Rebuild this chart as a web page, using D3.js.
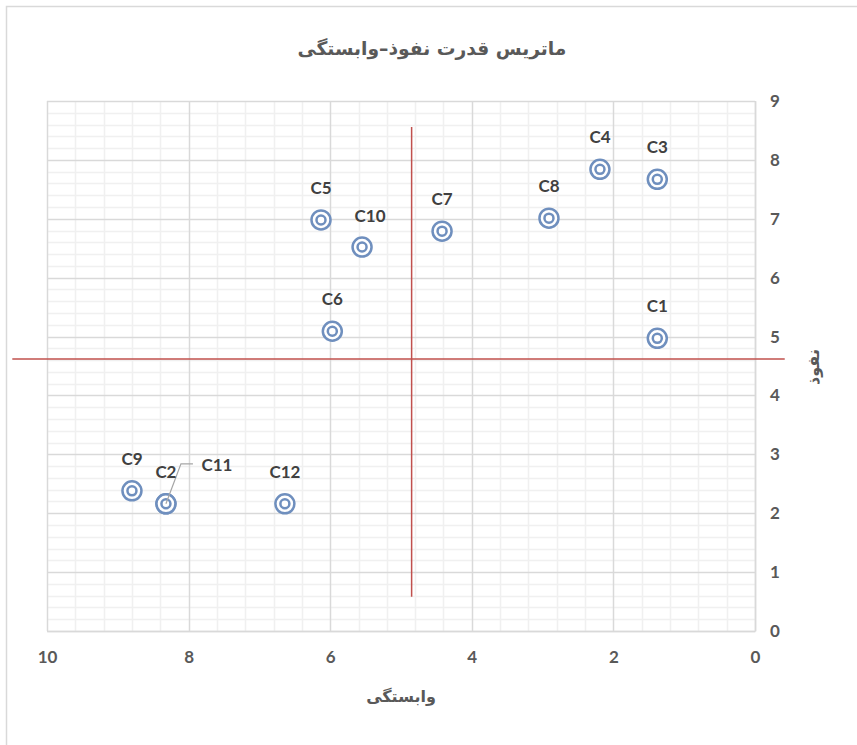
<!DOCTYPE html>
<html>
<head>
<meta charset="utf-8">
<script src="https://cdn.jsdelivr.net/npm/d3@7"></script>
<style>
 body{margin:0;background:#fff}
 svg{display:block}
</style>
</head>
<body>
<svg id="chart" width="857" height="745"></svg>
<script>
// ---chart data---
var pointNames = ["C1","C2","C3","C4","C5","C6","C7","C8","C9","C10","C11","C12"]
var dependence = [1.38, 8.32, 1.38, 2.19, 6.13, 5.97, 4.42, 2.91, 8.80, 5.55, 8.32, 6.64]
var influence  = [4.97, 2.16, 7.67, 7.84, 6.98, 5.09, 6.79, 7.01, 2.38, 6.52, 2.16, 2.16]

var xTicks = [10, 8, 6, 4, 2, 0]
var yTicks = [0, 1, 2, 3, 4, 5, 6, 7, 8, 9]

// ---red divider lines (start/end values)---
var hLineX = [10.49, -0.42]
var hLineY = [4.62, 4.62]
var vLineX = [4.85, 4.85]
var vLineY = [8.56, 0.58]

var title = "ماتریس قدرت نفوذ–وابستگی"
var xAxisName = "وابستگی"
var yAxisName = "نفوذ"

var svg = d3.select("#chart")

// ---outer frame---
svg.append("rect")
 .attr("x", 6.5).attr("y", 6.5)
 .attr("width", 900).attr("height", 800)
 .attr("fill", "white")
 .attr("stroke", "#d9d9d9")
 .attr("stroke-width", 1.5)

var plotLeft = 47, plotRight = 755, plotTop = 101, plotBottom = 631

var xScale = d3.scaleLinear().domain([10, 0]).range([plotLeft, plotRight])
var yScale = d3.scaleLinear().domain([0, 9]).range([plotBottom, plotTop])

var chartG = svg.append("g").attr("id", "chartG")

// ---minor gridlines---
var minorX = d3.range(0, 26).map(function(i){ return i * 0.4 }).filter(function(v){ return v <= 10.001 && Math.abs(v/2 - Math.round(v/2)) > 0.01 })
var minorY = d3.range(0, 46).map(function(i){ return i * 0.2 }).filter(function(v){ return v <= 9.001 && Math.abs(v - Math.round(v)) > 0.01 })

chartG.append("g")
 .selectAll("line").data(minorX).enter().append("line")
 .attr("x1", function(d){ return Math.round(xScale(d)) + 0.5 })
 .attr("x2", function(d){ return Math.round(xScale(d)) + 0.5 })
 .attr("y1", plotTop).attr("y2", plotBottom)
 .attr("stroke", "#f0f0f0").attr("stroke-width", 1.5)

chartG.append("g")
 .selectAll("line").data(minorY).enter().append("line")
 .attr("y1", function(d){ return Math.round(yScale(d)) + 0.5 })
 .attr("y2", function(d){ return Math.round(yScale(d)) + 0.5 })
 .attr("x1", plotLeft).attr("x2", plotRight)
 .attr("stroke", "#f0f0f0").attr("stroke-width", 1.5)

// ---major gridlines---
chartG.append("g")
 .selectAll("line").data(xTicks).enter().append("line")
 .attr("x1", function(d){ return Math.round(xScale(d)) + 0.5 })
 .attr("x2", function(d){ return Math.round(xScale(d)) + 0.5 })
 .attr("y1", plotTop).attr("y2", plotBottom)
 .attr("stroke", "#d9d9d9").attr("stroke-width", 1.5)

chartG.append("g")
 .selectAll("line").data(yTicks).enter().append("line")
 .attr("y1", function(d){ return Math.round(yScale(d)) + 0.5 })
 .attr("y2", function(d){ return Math.round(yScale(d)) + 0.5 })
 .attr("x1", plotLeft).attr("x2", plotRight)
 .attr("stroke", "#d9d9d9").attr("stroke-width", 1.5)

// ---axes---
var xAxis = chartG.append("g")
 .attr("transform", "translate(0," + plotBottom + ")")
 .call(d3.axisBottom(xScale).tickValues(xTicks).tickSize(0).tickPadding(20))
xAxis.select(".domain").attr("stroke", "#d9d9d9").attr("stroke-width", 1.5)
xAxis.selectAll("text")
 .attr("font-family", "Lato, 'Open Sans', sans-serif")
 .attr("font-weight", "bold")
 .attr("font-size", "17px")
 .attr("fill", "#595959")

var yAxis = chartG.append("g")
 .attr("transform", "translate(" + plotRight + ",0)")
 .call(d3.axisRight(yScale).tickValues(yTicks).tickSize(0).tickPadding(15))
yAxis.select(".domain").attr("stroke", "#d9d9d9").attr("stroke-width", 1.5)
yAxis.selectAll("text")
 .attr("font-family", "Lato, 'Open Sans', sans-serif")
 .attr("font-weight", "bold")
 .attr("font-size", "17px")
 .attr("fill", "#595959")

// ---red lines---
var line = d3.line()
 .x(function(d){ return xScale(d[0]) })
 .y(function(d){ return yScale(d[1]) })

chartG.append("path")
 .datum(d3.zip(hLineX, hLineY))
 .attr("d", line)
 .attr("fill", "none")
 .attr("stroke", "#c0504d")
 .attr("stroke-width", 1.5)

chartG.append("path")
 .datum(d3.zip(vLineX, vLineY))
 .attr("d", line)
 .attr("fill", "none")
 .attr("stroke", "#c0504d")
 .attr("stroke-width", 1.5)

// ---points---
var points = pointNames.map(function(n, i){ return {name: n, x: dependence[i], y: influence[i]} })

var pG = chartG.selectAll(".pt").data(points).enter().append("g")
 .attr("class", "pt")
 .attr("transform", function(d){ return "translate(" + xScale(d.x) + "," + yScale(d.y) + ")" })

pG.append("circle")
 .attr("r", 9.5)
 .attr("fill", "white")
 .attr("stroke", "#6f8fbe")
 .attr("stroke-width", 2.5)
pG.append("circle")
 .attr("r", 4.5)
 .attr("fill", "none")
 .attr("stroke", "#6f8fbe")
 .attr("stroke-width", 2.5)

// ---labels---
function labelPos(d)
{
  var px = xScale(d.x), py = yScale(d.y)
  if(d.name == "C10") return [px + 8, py - 31]
  if(d.name == "C11") return [px + 51, py - 39]
  return [px, py - 32]
}

// leader line for C11
var c11 = points[10]
var c11pos = labelPos(c11)
chartG.append("polyline")
 .attr("points", (c11pos[0] - 24) + "," + (c11pos[1] - 1) + " " + (c11pos[0] - 36) + "," + (c11pos[1] - 1) + " " + xScale(c11.x) + "," + yScale(c11.y))
 .attr("fill", "none")
 .attr("stroke", "#a6a6a6")
 .attr("stroke-width", 1.2)

chartG.selectAll(".lbl").data(points).enter().append("text")
 .attr("class", "lbl")
 .attr("x", function(d){ return labelPos(d)[0] })
 .attr("y", function(d){ return labelPos(d)[1] })
 .attr("dy", ".35em")
 .attr("text-anchor", "middle")
 .attr("font-family", "Lato, 'Open Sans', sans-serif")
 .attr("font-weight", "bold")
 .attr("font-size", "17px")
 .attr("fill", "#404040")
 .text(function(d){ return d.name })

// ---titles---
svg.append("text")
 .attr("x", 432).attr("y", 48)
 .attr("dy", ".35em")
 .attr("text-anchor", "middle")
 .attr("font-family", "'DejaVu Sans', sans-serif")
 .attr("font-weight", "bold")
 .attr("font-size", "18.7px")
 .attr("fill", "#595959")
 .text(title)

svg.append("text")
 .attr("x", 401).attr("y", 696)
 .attr("dy", ".35em")
 .attr("text-anchor", "middle")
 .attr("font-family", "'DejaVu Sans', sans-serif")
 .attr("font-weight", "bold")
 .attr("font-size", "16px")
 .attr("fill", "#595959")
 .text(xAxisName)

svg.append("text")
 .attr("transform", "translate(813 367)rotate(-90)")
 .attr("dy", ".35em")
 .attr("text-anchor", "middle")
 .attr("font-family", "'DejaVu Sans', sans-serif")
 .attr("font-weight", "bold")
 .attr("font-size", "16px")
 .attr("fill", "#595959")
 .text(yAxisName)
</script>
</body>
</html>
